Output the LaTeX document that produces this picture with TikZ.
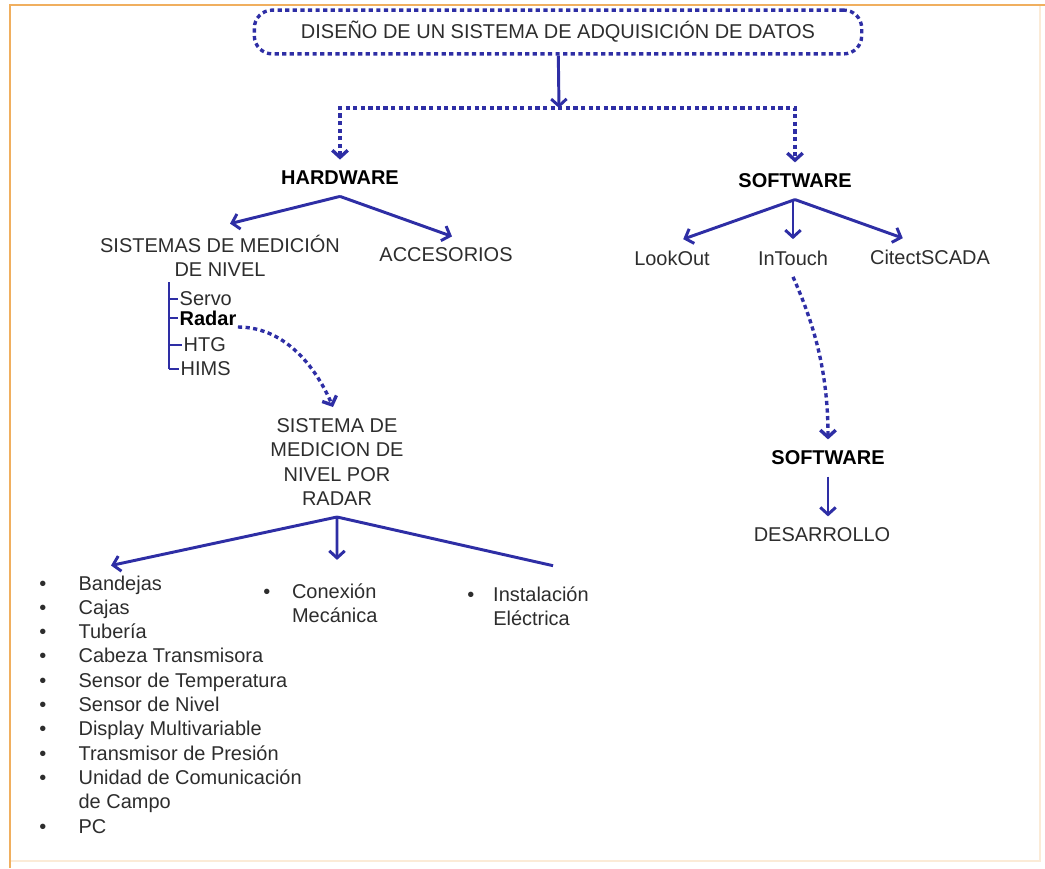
\documentclass[tikz,border=0pt]{standalone}
\usepackage{fontspec}
\setmainfont{Liberation Sans}
\usetikzlibrary{arrows.meta}
\definecolor{lineblue}{RGB}{46,46,165}
\definecolor{textgray}{RGB}{45,45,45}
\definecolor{frameorange}{RGB}{240,175,95}

\begin{document}
\begin{tikzpicture}[
            x = 0.025cm, y = -0.025cm, % one unit = one pixel of the sketch
            > = {Straight Barb[length=5pt,width=11pt]}, % open arrow head
            font = \fontsize{14.2}{17.3}\selectfont,
            text = textgray
        ]

        \tikzstyle{link}=[
            draw = lineblue,
            line width = 2.1pt
        ]
        \tikzstyle{dlink}=[link, line width = 2.4pt, dash pattern = on 3pt off 2.4pt]
        \tikzstyle{word}=[inner xsep = 2pt, inner ysep = 8pt, align = center]
        \tikzstyle{head}=[word, font = \fontsize{14.2}{17.3}\selectfont\bfseries, text = black]
        \tikzstyle{sub}=[inner sep = 1pt, anchor = west]
        \tikzstyle{items}=[inner sep = 0pt, anchor = base west]

        % frame
        \useasboundingbox (0,0) rectangle (1045,868);
        \draw[frameorange!25, line width = 1.2pt] (1040,5) -- (1040,861) -- (10,861);
        \draw[frameorange, line width = 1.2pt] (10,868) -- (10,5) -- (1045,5);

        \node[word, dlink, rounded corners = 0.45cm, minimum width = 15.18cm, minimum height = 1cm] (title) at (558,32)
            {DISEÑO DE UN SISTEMA DE ADQUISICIÓN DE DATOS};
        \coordinate (fork) at (559,108);

        \node[head] (hw) at (340,178) {HARDWARE};
        \node[head] (sw) at (795,181) {SOFTWARE};

        \node[word] (med) at (220,256) {SISTEMAS DE MEDICIÓN\\DE NIVEL};
        \node[word] (acc) at (446,255) {ACCESORIOS};

        \node[word] (lo) at (672,258) {LookOut};
        \node[word] (it) at (793,258) {InTouch};
        \node[word] (ci) at (930,257) {CitectSCADA};

        \node[sub] (servo) at (178,299) {Servo};
        \node[sub, font = \fontsize{14.2}{17.3}\selectfont\bfseries, text = black] (radar) at (178,318) {Radar};
        \node[sub] (htg) at (182,345) {HTG};
        \node[sub] (hims) at (179,369) {HIMS};
        \coordinate (brtop) at (169,282);

        \node[word] (rs) at (337,462) {SISTEMA DE\\MEDICION DE\\NIVEL POR\\RADAR};

        \node[head] (sw2) at (828,458) {SOFTWARE};
        \node[word] (des) at (822,535) {DESARROLLO};

        \node[items] (lista) at (39,590) {\begin{tabular}[t]{@{}l@{\hspace{23pt}}l@{}}
            \textbullet & Bandejas\\
            \textbullet & Cajas\\
            \textbullet & Tubería\\
            \textbullet & Cabeza Transmisora\\
            \textbullet & Sensor de Temperatura\\
            \textbullet & Sensor de Nivel\\
            \textbullet & Display Multivariable\\
            \textbullet & Transmisor de Presión\\
            \textbullet & Unidad de Comunicación\\
                        & de Campo\\
            \textbullet & PC
        \end{tabular}};
        \node[items] (listb) at (263,598) {\begin{tabular}[t]{@{}l@{\hspace{15.5pt}}l@{}}
            \textbullet & Conexión\\
                        & Mecánica
        \end{tabular}};
        \node[items] (listc) at (467,601) {\begin{tabular}[t]{@{}l@{\hspace{13.5pt}}l@{}}
            \textbullet & Instalación\\
                        & Eléctrica
        \end{tabular}};

        \draw[link, ->] (title) -- (fork);
        \draw[dlink, <->] (hw.north) |- (fork) -| (sw.north);

        \draw[link, ->] (hw.south) -- ([xshift=0.25cm]med.north);
        \draw[link, ->] (hw.south) -- ([xshift=0.15cm]acc.north);

        \draw[link, ->] (sw.south) -- ([xshift=0.28cm]lo.north);
        \draw[link, ->] (sw.south -| it.north) -- (it.north);
        \draw[link, ->] (sw.south) -- ([xshift=-0.68cm]ci.north);

        \draw[link] (brtop) -- (brtop |- hims.west);
        \foreach \n in {servo, radar, htg, hims}
            \draw[link] (\n.west -| brtop) -- (\n.west);

        \draw[dlink, ->] (radar.south east) .. controls +(50,0) and +(-15,-35) .. ([xshift=-0.1cm]rs.north);
        \draw[dlink, ->] (it.south) .. controls +(20,45) and +(0,-70) .. (sw2.north);
        \draw[link, ->] (sw2.south) -- (sw2.south |- des.north);

        \draw[link, ->] (rs.south) -- ([xshift=1.8cm,yshift=0.18cm]lista.north west);
        \draw[link, ->] (rs.south) -- ([xshift=1.85cm,yshift=0.52cm]listb.north west);
        \draw[link] (rs.south) -- ([xshift=2.15cm,yshift=0.45cm]listc.north west);

    \end{tikzpicture}
\end{document}
